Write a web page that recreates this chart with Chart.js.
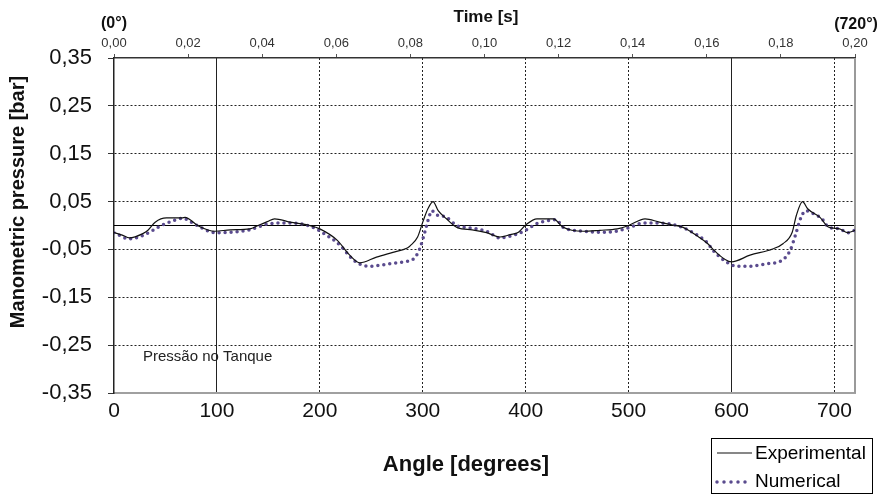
<!DOCTYPE html>
<html>
  <head>
    <title>Pressão no Tanque</title>
    <script src="https://cdn.jsdelivr.net/npm/chart.js"></script>
    <style>
      body {
        margin: 0;
        background: #ffffff;
        font-family: "Liberation Sans", Arial, sans-serif;
      }

      .chart-wrapper {
        width: 884px;
        height: 497px;
        position: relative;
      }
    </style>
  </head>
  <body>
    <div class="chart-wrapper">
      <canvas id="pressureChart"></canvas>
    </div>

    <script>
      // valores (ângulo em graus, pressão em bar)
      var expAngle = [0, 8, 15, 28, 33, 40, 51, 66, 69, 82, 98, 113, 132, 140, 149, 156, 171, 190, 200, 217, 229, 239, 255, 271, 285, 288, 295, 300, 305, 310, 315, 323, 334, 348, 362, 375, 385, 393, 400, 411, 427, 436, 456, 472, 489, 500, 516, 530, 543, 553, 566, 577, 583, 600, 618, 640, 650, 659, 663, 669, 674, 686, 694, 705, 713, 720];
      var expPressure = [-0.015, -0.02, -0.026, -0.017, -0.01, 0.007, 0.016, 0.016, 0.017, -0.001, -0.012, -0.009, -0.007, 0.0, 0.008, 0.014, 0.007, 0.0, -0.007, -0.031, -0.062, -0.078, -0.066, -0.056, -0.047, -0.042, -0.024, 0.007, 0.035, 0.05, 0.031, 0.014, -0.005, -0.009, -0.015, -0.024, -0.019, -0.014, 0.001, 0.014, 0.014, -0.003, -0.012, -0.01, -0.007, 0.0, 0.014, 0.007, 0.001, -0.004, -0.021, -0.038, -0.052, -0.076, -0.062, -0.049, -0.038, -0.014, 0.021, 0.05, 0.035, 0.017, -0.003, -0.007, -0.015, -0.01];

      var numAngle = [0, 15, 28, 38, 46, 54, 67, 74, 85, 98, 115, 132, 149, 160, 171, 190, 207, 220, 231, 239, 249, 265, 281, 291, 297, 302, 305, 309, 312, 323, 333, 346, 362, 375, 390, 400, 411, 421, 430, 436, 456, 479, 492, 501, 514, 530, 547, 560, 576, 582, 595, 605, 618, 634, 649, 657, 662, 667, 672, 680, 688, 694, 705, 713, 720];
      var numPressure = [-0.015, -0.028, -0.021, -0.01, 0.0, 0.007, 0.015, 0.008, -0.005, -0.015, -0.014, -0.009, 0.003, 0.005, 0.005, -0.001, -0.021, -0.042, -0.069, -0.081, -0.085, -0.081, -0.076, -0.07, -0.049, -0.014, 0.01, 0.031, 0.024, 0.017, 0.0, -0.005, -0.012, -0.026, -0.019, -0.01, 0.004, 0.01, 0.012, -0.003, -0.012, -0.014, -0.01, -0.004, 0.005, 0.005, 0.0, -0.012, -0.035, -0.052, -0.076, -0.085, -0.085, -0.08, -0.073, -0.052, -0.021, 0.014, 0.031, 0.024, 0.014, -0.003, -0.007, -0.015, -0.01];

      var seriesLabels = ["Experimental", "Numerical"];
      var angleTicks = [0, 100, 200, 300, 400, 500, 600, 700];
      var solidAngles = [100, 600];
      var pressureTicks = [-0.35, -0.25, -0.15, -0.05, 0.05, 0.15, 0.25, 0.35];
      var timeTicks = [0, 0.02, 0.04, 0.06, 0.08, 0.1, 0.12, 0.14, 0.16, 0.18, 0.2];

      var expColor = "#111111";
      var numColor = "#5a4b8e";
      var FONT = "'Liberation Sans', Arial, sans-serif";

      function toPoints(xs, ys) {
        return xs.map(function (x, i) {
          return { x: x, y: ys[i] };
        });
      }

      function comma(v, d) {
        return v.toFixed(d).replace(".", ",");
      }

      function stretchText(ctx, text, x, y, targetWidth) {
        var w = ctx.measureText(text).width;
        ctx.save();
        ctx.translate(x, y);
        ctx.scale(targetWidth / w, 1);
        ctx.fillText(text, 0, 0);
        ctx.restore();
      }

      const overlay = {
        id: "overlay",
        beforeDatasetsDraw(chart) {
          const ctx = chart.ctx;
          const a = chart.chartArea;
          const y0 = chart.scales.y.getPixelForValue(0);
          ctx.save();
          ctx.strokeStyle = "#000";
          ctx.lineWidth = 1;
          ctx.beginPath();
          ctx.moveTo(a.left, y0);
          ctx.lineTo(a.right, y0);
          ctx.stroke();
          // borda direita
          ctx.strokeStyle = "#9a9a9a";
          ctx.lineWidth = 2;
          ctx.beginPath();
          ctx.moveTo(a.right, a.top);
          ctx.lineTo(a.right, a.bottom);
          ctx.stroke();
          ctx.restore();
        },
        afterDraw(chart) {
          const ctx = chart.ctx;
          const a = chart.chartArea;
          ctx.save();
          ctx.fillStyle = "#111";
          ctx.textAlign = "center";
          ctx.textBaseline = "middle";

          ctx.font = "bold 17px " + FONT;
          ctx.fillText("Time [s]", 486, 17);
          ctx.font = "bold 16px " + FONT;
          ctx.fillText("(0°)", a.left, 24);
          ctx.fillText("(720°)", 856, 25);

          ctx.font = "bold 22px " + FONT;
          ctx.fillText("Angle [degrees]", 466, 465);

          ctx.save();
          ctx.translate(18, 202);
          ctx.rotate(-Math.PI / 2);
          ctx.font = "bold 20px " + FONT;
          ctx.fillText("Manometric pressure [bar]", 0, 0);
          ctx.restore();

          ctx.font = "15px " + FONT;
          ctx.textAlign = "left";
          ctx.fillStyle = "#222";
          ctx.fillText("Pressão no Tanque", 143, 357);

          // legenda
          ctx.strokeStyle = "#000";
          ctx.lineWidth = 1;
          ctx.fillStyle = "#fff";
          ctx.fillRect(711, 438, 161, 55);
          ctx.strokeRect(711.5, 438.5, 161, 55);

          ctx.beginPath();
          ctx.strokeStyle = expColor;
          ctx.lineWidth = 1.2;
          ctx.moveTo(717, 453);
          ctx.lineTo(752, 453);
          ctx.stroke();

          ctx.beginPath();
          ctx.strokeStyle = numColor;
          ctx.lineWidth = 3.5;
          ctx.lineCap = "round";
          ctx.setLineDash([0, 7]);
          ctx.moveTo(717, 482);
          ctx.lineTo(752, 482);
          ctx.stroke();
          ctx.setLineDash([]);

          ctx.fillStyle = "#000";
          ctx.font = "19px " + FONT;
          ctx.fillText(seriesLabels[0], 755, 454);
          ctx.fillText(seriesLabels[1], 755, 482);
          ctx.restore();
        },
      };

      const ctx = document.getElementById("pressureChart");

      new Chart(ctx, {
        type: "line",
        data: {
          datasets: [
            {
              label: seriesLabels[0],
              data: toPoints(expAngle, expPressure),
              borderColor: expColor,
              borderWidth: 1.2,
              pointRadius: 0,
              cubicInterpolationMode: "monotone",
            },
            {
              label: seriesLabels[1],
              data: toPoints(numAngle, numPressure),
              borderColor: numColor,
              borderWidth: 3.5,
              borderCapStyle: "round",
              borderDash: [0, 6],
              pointRadius: 0,
              cubicInterpolationMode: "monotone",
            },
          ],
        },
        options: {
          responsive: true,
          maintainAspectRatio: false,
          animation: false,
          layout: { padding: { right: 29 } },
          plugins: {
            legend: { display: false },
            tooltip: { enabled: false },
          },
          scales: {
            x: {
              type: "linear",
              position: "bottom",
              min: 0,
              max: 720,
              afterBuildTicks: function (scale) {
                scale.ticks = angleTicks.map(function (v) {
                  return { value: v };
                });
              },
              afterFit: function (scale) {
                scale.height = 104;
              },
              ticks: {
                padding: 6,
                color: "#111",
                font: { size: 21, family: FONT },
                maxRotation: 0,
              },
              grid: {
                drawTicks: false,
                color: function (c) {
                  return c.tick && c.tick.value === 0 ? "transparent" : "#222";
                },
                lineWidth: 1,
              },
              border: {
                color: "#a0a0a0",
                width: 2,
                dash: function (c) {
                  if (!c.tick) return [];
                  return solidAngles.indexOf(c.tick.value) >= 0 ? [] : [2, 2];
                },
              },
            },
            x2: {
              type: "linear",
              axis: "x",
              position: "top",
              min: 0,
              max: 0.2,
              afterBuildTicks: function (scale) {
                scale.ticks = timeTicks.map(function (v) {
                  return { value: v };
                });
              },
              afterFit: function (scale) {
                scale.height = 58;
              },
              ticks: {
                padding: 3,
                color: "#333",
                font: { size: 13, family: FONT },
                maxRotation: 0,
                callback: function (v) {
                  return comma(v, 2);
                },
              },
              grid: {
                drawOnChartArea: false,
                tickLength: 4,
                tickColor: "#555",
              },
              border: { color: "#333", width: 1.5 },
            },
            y: {
              type: "linear",
              min: -0.35,
              max: 0.35,
              afterBuildTicks: function (scale) {
                scale.ticks = pressureTicks.map(function (v) {
                  return { value: v };
                });
              },
              afterFit: function (scale) {
                scale.width = 114;
              },
              ticks: {
                padding: 16,
                color: "#111",
                font: { size: 22, family: FONT },
                callback: function (v) {
                  return comma(v, 2);
                },
              },
              grid: {
                color: function (c) {
                  if (!c.tick) return "#222";
                  return Math.abs(c.tick.value) > 0.3 ? "transparent" : "#222";
                },
                tickColor: "#333",
                tickLength: 6,
                tickBorderDash: [],
                lineWidth: 1,
              },
              border: {
                color: "#222",
                width: 1.5,
                dash: function (c) {
                  return c.tick ? [2, 2] : [];
                },
              },
            },
          },
        },
        plugins: [overlay],
      });
    </script>
  </body>
</html>
